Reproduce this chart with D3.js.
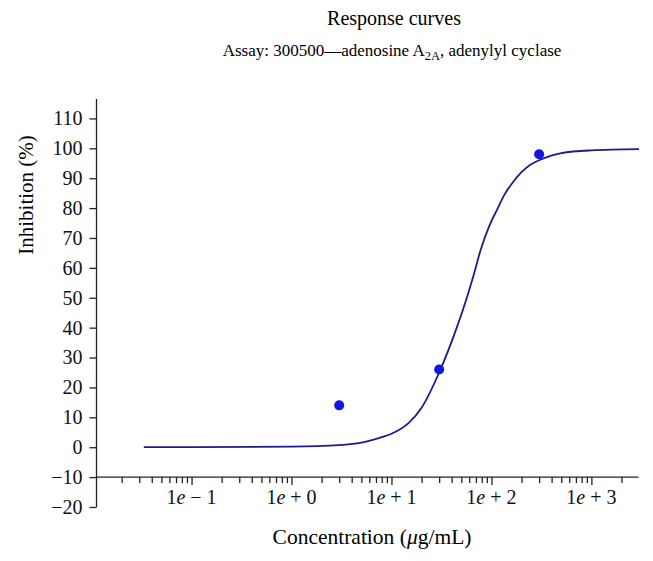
<!DOCTYPE html>
<html>
<head>
<meta charset="utf-8">
<script src="https://cdn.jsdelivr.net/npm/d3@7"></script>
<style>
  body { margin: 0; background: #fff; }
  svg { display: block; }
  svg text { font-family: "Liberation Serif", "DejaVu Serif", serif; }
</style>
</head>
<body>
<script>
// chart size
const width = 653;
const height = 561;
const serif = "Liberation Serif, DejaVu Serif, serif";

// measured points (concentration in ug/mL, inhibition %)
const pointConc = [3, 30, 300];
const pointInhib = [14, 26, 98];

// fitted curve
const curveConc = [0.0333, 0.1, 1, 3, 5, 8, 10, 15, 20, 30, 45, 58, 65, 78, 95, 114, 135, 167, 200, 245, 300, 500, 1000, 3000];
const curveInhib = [0, 0.02, 0.2, 0.7, 1.5, 3.4, 4.5, 8.2, 13.2, 25, 40, 51, 56.5, 66, 74, 79.5, 84.5, 89, 92, 94.5, 96, 98.4, 99.3, 99.7];

// tick labels
const yTicks = [-20, -10, 0, 10, 20, 30, 40, 50, 60, 70, 80, 90, 100, 110];
const xMajor = [0.1, 1, 10, 100, 1000];
const xLabels = ["1e \u2212 1", "1e + 0", "1e + 1", "1e + 2", "1e + 3"];

var svg, x_scale, y_scale;

function generateScale() {
    x_scale = d3.scaleLog().domain([0.0112, 2960]).range([96.5, 638.5]);
    y_scale = d3.scaleLinear().domain([-20, 116.5]).range([507, 99]);
}

function generateAxis() {
    // y axis on the left
    var y_axis = d3.axisLeft(y_scale).tickValues(yTicks).tickSize(7).tickPadding(7)
        .tickFormat((d) => d < 0 ? "\u2212" + Math.abs(d) : d);
    var gy = svg.append("g")
        .attr("transform", "translate(" + x_scale.range()[0] + ",0)")
        .call(y_axis)
        .attr("font-family", serif)
        .attr("font-size", 20);
    gy.select(".domain").attr("d", "M0," + y_scale.range()[1] + "V" + y_scale.range()[0]);

    // x axis crossing at -10, log minor ticks
    var allTicks = x_scale.ticks().filter((d) => x_scale(d) > x_scale.range()[0] + 2);
    var x_axis = d3.axisBottom(x_scale).tickValues(allTicks).tickSize(6).tickFormat("");
    var gx = svg.append("g")
        .attr("transform", "translate(0," + y_scale(-10) + ")")
        .call(x_axis)
        .attr("font-family", serif)
        .attr("font-size", 20);
    gx.select(".domain").attr("d", "M" + x_scale.range()[0] + ",0H" + x_scale.range()[1]);
    gx.selectAll(".tick line").filter((d) => xMajor.indexOf(d) >= 0).attr("y2", 8);

    // labels for the decades
    gx.selectAll(".dec")
        .data(xMajor)
        .enter()
        .append("text")
        .attr("class", "dec")
        .attr("x", (d) => x_scale(d))
        .attr("y", 27)
        .attr("text-anchor", "middle")
        .attr("fill", "#111")
        .attr("font-family", serif)
        .style("font-size", "20px")
        .html((d, i) => {
            var s = xLabels[i];
            return "1<tspan font-style='italic'>e</tspan>" + s.slice(2);
        });

    gy.selectAll(".tick text").attr("font-family", serif).style("font-size", "20px").attr("fill", "#111");
    svg.selectAll(".domain, .tick line").attr("stroke", "#222").attr("stroke-width", 1.3);
}

function generateTitle() {
    svg.append("text")
        .attr("x", 394)
        .attr("y", 25)
        .attr("text-anchor", "middle")
        .style("font-size", "20px")
        .text("Response curves");

    var sub = svg.append("text")
        .attr("x", 392)
        .attr("y", 56)
        .attr("text-anchor", "middle")
        .style("font-size", "17px");
    sub.append("tspan").text("Assay: 300500\u2014adenosine A");
    sub.append("tspan").attr("dy", 4).style("font-size", "12.5px").text("2A");
    sub.append("tspan").attr("dy", -4).text(", adenylyl cyclase");

    // axis titles
    svg.append("text")
        .attr("transform", "translate(33,195) rotate(-90)")
        .attr("text-anchor", "middle")
        .style("font-size", "21px")
        .text("Inhibition (%)");

    var xt = svg.append("text")
        .attr("x", 372)
        .attr("y", 544)
        .attr("text-anchor", "middle")
        .style("font-size", "21.5px");
    xt.append("tspan").text("Concentration (");
    xt.append("tspan").style("font-style", "italic").text("\u03bc");
    xt.append("tspan").text("g/mL)");
}

function generateMarks() {
    var curveData = curveConc.map((c, i) => [c, curveInhib[i]]);
    var line = d3.line()
        .x((d) => x_scale(d[0]))
        .y((d) => y_scale(d[1]))
        .curve(d3.curveMonotoneX);
    svg.append("path")
        .datum(curveData)
        .attr("d", line)
        .attr("fill", "none")
        .attr("stroke", "#1c1c8a")
        .attr("stroke-width", 1.8);

    svg.selectAll("circle")
        .data(pointConc.map((c, i) => [c, pointInhib[i]]))
        .enter()
        .append("circle")
        .attr("cx", (d) => x_scale(d[0]))
        .attr("cy", (d) => y_scale(d[1]))
        .attr("r", 5)
        .attr("fill", "#1414e6");
}

svg = d3.select("body")
    .append("svg")
    .attr("width", width)
    .attr("height", height);

generateScale();
generateTitle();
generateAxis();
generateMarks();
</script>
</body>
</html>
